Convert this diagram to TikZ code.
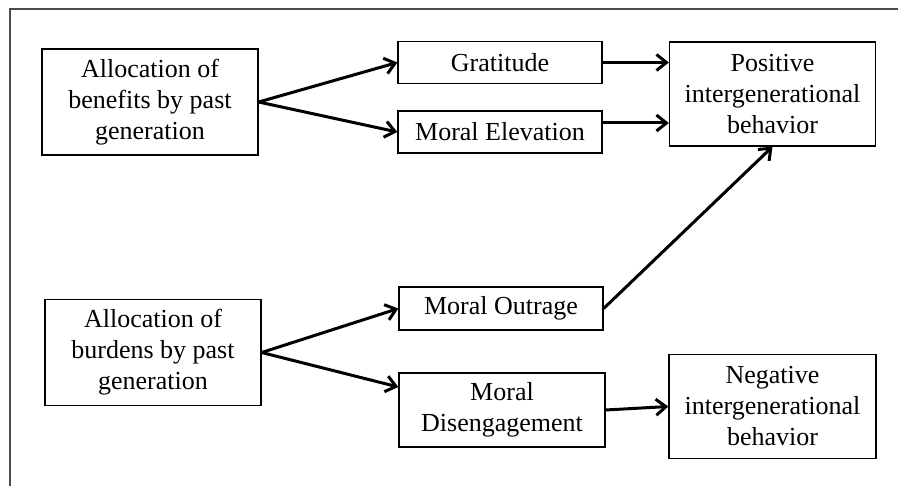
\documentclass[tikz,border=0pt]{standalone}
\usepackage{fontspec}
\setmainfont{Liberation Serif}
\usepackage{xcolor}
\usetikzlibrary{arrows.meta}

\begin{document}
\begin{tikzpicture}[x=0.5pt,y=-0.5pt]
			\tikzstyle{cause} = [draw, line width=0.65pt, align=center, inner sep=0pt, minimum width=108pt, minimum height=53pt, font=\fontsize{13}{15.5}\selectfont]
			\tikzstyle{emotion} = [draw, line width=0.65pt, align=center, inner sep=0pt, minimum width=102pt, minimum height=21pt, font=\fontsize{13}{15.5}\selectfont]
			\tikzstyle{outcome} = [cause, minimum width=103pt, minimum height=52pt]
			\tikzset{edge/.style = {line width=1.5pt, -{Straight Barb[length=5pt,width=8pt,line width=1.5pt]}}}
			
			\useasboundingbox (0,0) rectangle (898,486);
			\draw[gray!60!black, line width=0.55pt] (10,486) -- (10,9) -- (898,9);
			
			\node[cause](benefits) at (150,102) {Allocation of\\benefits by past\\generation};
			\node[emotion](gratitude) at (500,62.5) {Gratitude};
			\node[emotion](elevation) at (500,132) {Moral Elevation};
			\node[outcome](positive) at (772.5,94) {Positive\\intergenerational\\behavior};
			\draw[edge](benefits.east) to (gratitude.west);
			\draw[edge](benefits.east) to (elevation.west);
			\draw[edge](gratitude.east) to (gratitude.east -| positive.west);
			\draw[edge]([yshift=4.5pt]elevation.east) to ([yshift=4.5pt]elevation.east -| positive.west);
			
			\node[cause](burdens) at (153,352.5) {Allocation of\\burdens by past\\generation};
			\node[emotion, minimum height=21.5pt](outrage) at (501,308.5) {Moral Outrage};
			\node[emotion, minimum width=103pt, minimum height=37pt](disengage) at (502,410) {Moral\\Disengagement};
			\node[outcome, minimum width=103.5pt](negative) at (772.5,406.5) {Negative\\intergenerational\\behavior};
			\draw[edge](burdens.east) to (outrage.west);
			\draw[edge](burdens.east) to ([yshift=11.5pt]disengage.west);
			\draw[edge](outrage.east) to (positive.south);
			\draw[edge](disengage.east) to (negative.west);
			
			\end{tikzpicture}
\end{document}
